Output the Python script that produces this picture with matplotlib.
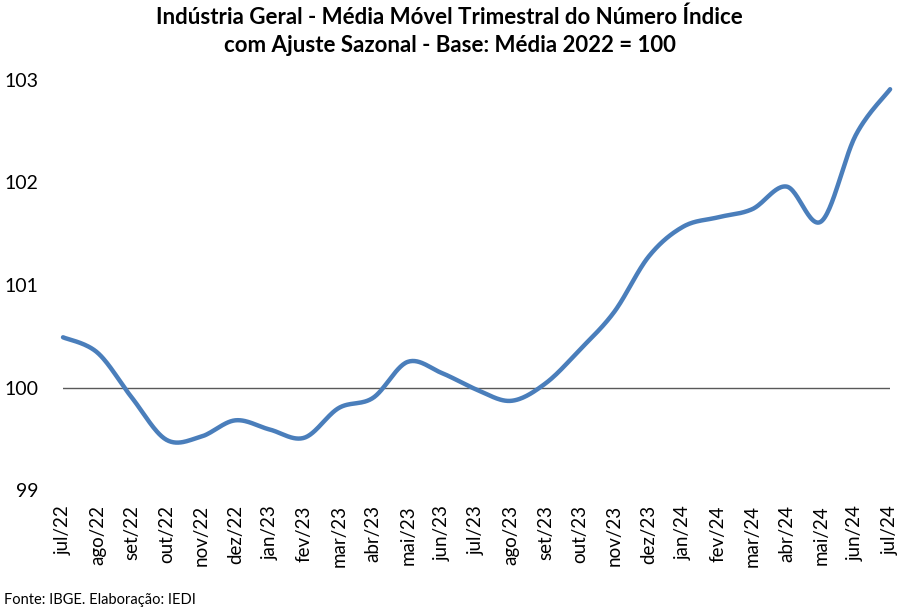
import numpy as np
import matplotlib.pyplot as plt

plt.rcParams['font.family'] = ['Lato', 'DejaVu Sans']

# dados
meses = ["jul/22", "ago/22", "set/22", "out/22", "nov/22", "dez/22", "jan/23",
         "fev/23", "mar/23", "abr/23", "mai/23", "jun/23", "jul/23", "ago/23",
         "set/23", "out/23", "nov/23", "dez/23", "jan/24", "fev/24", "mar/24",
         "abr/24", "mai/24", "jun/24", "jul/24"]
indice = [100.49, 100.34, 99.90, 99.49, 99.52, 99.68, 99.59,
          99.51, 99.80, 99.90, 100.25, 100.14, 99.98, 99.87,
          100.04, 100.37, 100.74, 101.28, 101.57, 101.66, 101.74,
          101.96, 101.62, 102.46, 102.91]
yticks = [99, 100, 101, 102, 103]


def suaviza(x, y, n=30):
    # curva suave tipo Excel (bezier com pontos de controle de Catmull-Rom)
    x = np.asarray(x, float)
    y = np.asarray(y, float)
    px = np.concatenate([[x[0]], x, [x[-1]]])
    py = np.concatenate([[y[0]], y, [y[-1]]])
    t = np.linspace(0, 1, n)[:, None]
    xs, ys = [], []
    for i in range(len(x) - 1):
        p0 = np.array([px[i + 1], py[i + 1]])
        p3 = np.array([px[i + 2], py[i + 2]])
        c1 = p0 + (p3 - np.array([px[i], py[i]])) / 6
        c2 = p3 - (np.array([px[i + 3], py[i + 3]]) - p0) / 6
        b = ((1 - t) ** 3) * p0 + 3 * ((1 - t) ** 2) * t * c1 + 3 * (1 - t) * t ** 2 * c2 + t ** 3 * p3
        xs.append(b[:, 0])
        ys.append(b[:, 1])
    return np.concatenate(xs), np.concatenate(ys)


x = np.arange(len(meses))
xs, ys = suaviza(x, indice)

fig = plt.figure(figsize=(8.99, 6.12), dpi=100)
ax = fig.add_axes([0.0701, 0.1993, 0.920, 0.670])

ax.axhline(100, color='#595959', linewidth=1.0, zorder=1)
ax.plot(xs, ys, color='#4A7EBB', linewidth=3.2, solid_capstyle='round',
        zorder=2, clip_on=False)

ax.set_xlim(0, len(meses) - 1)
ax.set_ylim(99, 103)
ax.set_yticks(yticks)
ax.set_yticklabels([str(v) for v in yticks], fontsize=14)
ax.set_xticks(x)
ax.set_xticklabels(meses, rotation=90, fontsize=13.5)
ax.tick_params(axis='both', length=0)
ax.tick_params(axis='y', pad=18)
ax.tick_params(axis='x', pad=11)
for s in ax.spines.values():
    s.set_visible(False)

fig.text(0.5, 0.99, "Indústria Geral - Média Móvel Trimestral do Número Índice\n"
         "com Ajuste Sazonal - Base: Média 2022 = 100",
         ha='center', va='top', fontsize=16, fontweight='bold',
         linespacing=1.45)
fig.text(0.005, 0.008, "Fonte: IBGE. Elaboração: IEDI", fontsize=10.5,
         ha='left', va='bottom')

fig.savefig("out.png", dpi=100)
